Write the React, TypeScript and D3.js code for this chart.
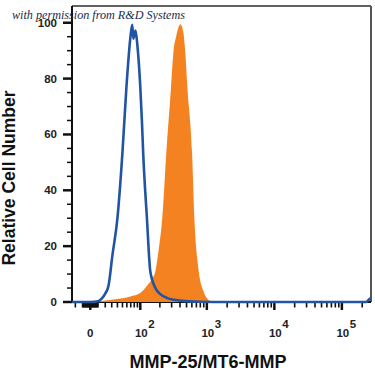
import React from "react";
import * as d3 from "d3";

// Fluorescence intensity (x) and relative cell number (y)
const isotypeIntensity = [-25, 0, 10, 15, 20, 25, 31, 40, 50, 59, 69, 74, 77.5, 84, 90, 100, 106, 111, 127, 143, 171, 203, 259, 405, 800, 2000, 10000, 100000, 230000, 250000, 270000];
const isotypeCount = [0, 0, 0.3, 1.2, 3, 6, 16.5, 30, 53.5, 77, 94.7, 99.3, 94.3, 97.2, 91.8, 77, 65, 53.5, 30, 11, 5, 2.8, 1.4, 0.5, 0.1, 0, 0, 0, 0, 0.8, 1.5];

const stainedIntensity = [-25, 0, 7, 13, 36, 69, 100, 129, 154, 171, 190, 217, 250, 294, 318, 353, 405, 448, 480, 514, 604, 653, 749, 888, 1000, 1127, 1350, 270000];
const stainedCount = [0, 0, 0.2, 0.4, 1, 2, 3.2, 6, 8.5, 11, 18, 30, 53.5, 77, 89, 95.4, 99.5, 96.5, 89, 77, 53.5, 30, 12, 3.9, 1.4, 0.3, 0, 0];

const yMajorTicks = [0, 20, 40, 60, 80, 100];
const yMinorTicks = [5, 10, 15, 25, 30, 35, 45, 50, 55, 65, 70, 75, 85, 90, 95];
const xMajorTicks = [0, 100, 1000, 10000, 100000];
const xTickExponents = ["", "2", "3", "4", "5"];
const xMinorTicks = [
  -20, -10, -9, -8, -7, -6, -5, -4, -3, -2, -1,
  1, 2, 3, 4, 5, 6, 7, 8, 9,
  10, 20, 30, 40, 50, 60, 70, 80, 90,
  200, 300, 400, 500, 600, 700, 800, 900,
  2000, 3000, 4000, 5000, 6000, 7000, 8000, 9000,
  20000, 30000, 40000, 50000, 60000, 70000, 80000, 90000,
  200000,
];

const W = 37.6;
const L = 72, R = 371, T = 6, B = 302;
const tr = (v: number) => Math.asinh(v / W);
const xLin = d3.scaleLinear().domain([tr(-25), tr(270000)]).range([L, R]);
const x = (v: number) => xLin(tr(v));
const y = d3.scaleLinear().domain([0, 106]).range([B, T]);

export default function App() {
  const stained = stainedIntensity.map((v, i) => [v, stainedCount[i]] as [number, number]);
  const isotype = isotypeIntensity.map((v, i) => [v, isotypeCount[i]] as [number, number]);
  const area = d3
    .area<[number, number]>()
    .x((d) => x(d[0]))
    .y0(y(0))
    .y1((d) => y(d[1]))
    .curve(d3.curveMonotoneX);
  const line = d3
    .line<[number, number]>()
    .x((d) => x(d[0]))
    .y((d) => y(d[1]))
    .curve(d3.curveMonotoneX);

  const bold = "'Liberation Sans', Arial, sans-serif";
  return (
    <svg
      width={375}
      height={375}
      style={{ position: "absolute", left: 0, top: 0, background: "#fff" }}
    >
      <defs>
        <clipPath id="plot">
          <rect x={L} y={T} width={R - L} height={B - T + 2} />
        </clipPath>
      </defs>
      <rect x={0} y={0} width={375} height={375} fill="#fff" />
      {/* frame */}
      <line x1={L} x2={R} y1={T} y2={T} stroke="#626262" strokeWidth={2} />
      <line x1={R} x2={R} y1={T} y2={B} stroke="#555" strokeWidth={2} />
      <line x1={L} x2={L} y1={T} y2={B + 1} stroke="#111" strokeWidth={2} />
      <line x1={L} x2={R} y1={B} y2={B} stroke="#111" strokeWidth={2} />

      {/* y ticks */}
      {yMajorTicks.map((t) => (
        <g key={"ym" + t}>
          <line x1={63} x2={L} y1={y(t)} y2={y(t)} stroke="#111" strokeWidth={2.5} />
          <text
            x={57}
            y={y(t)}
            dy="0.35em"
            textAnchor="end"
            fontFamily={bold}
            fontWeight="bold"
            fontSize={11.5}
            fill="#222"
          >
            {t}
          </text>
        </g>
      ))}
      {yMinorTicks.map((t) => (
        <line key={"yn" + t} x1={67} x2={L} y1={y(t)} y2={y(t)} stroke="#111" strokeWidth={1.5} />
      ))}

      {/* x ticks */}
      {xMinorTicks.map((t) => (
        <line key={"xn" + t} x1={x(t)} x2={x(t)} y1={B} y2={B + 5.5} stroke="#111" strokeWidth={1.6} />
      ))}
      {xMajorTicks.map((t, i) => (
        <g key={"xm" + t}>
          <line x1={x(t)} x2={x(t)} y1={B} y2={B + 8} stroke="#111" strokeWidth={2.5} />
          {xTickExponents[i] === "" ? (
            <text x={x(t)} y={337} textAnchor="middle" fontFamily={bold} fontWeight="bold" fontSize={11.5} fill="#222">
              0
            </text>
          ) : (
            <g>
              <text x={x(t) + 1} y={337} textAnchor="middle" fontFamily={bold} fontWeight="bold" fontSize={11.5} fill="#222">
                10
              </text>
              <text x={x(t) + 8} y={328} textAnchor="start" fontFamily={bold} fontWeight="bold" fontSize={11.5} fill="#222">
                {xTickExponents[i]}
              </text>
            </g>
          )}
        </g>
      ))}

      {/* histograms */}
      <g clipPath="url(#plot)">
        <path d={area(stained) || ""} fill="#f58220" />
        <path d={line(isotype) || ""} fill="none" stroke="#2154a2" strokeWidth={2.6} strokeLinejoin="round" />
      </g>

      {/* titles */}
      <text
        x={208}
        y={368}
        textAnchor="middle"
        fontFamily={bold}
        fontWeight="bold"
        fontSize={18}
        fill="#111"
      >
        MMP-25/MT6-MMP
      </text>
      <text
        transform="translate(15,178) rotate(-90)"
        textAnchor="middle"
        fontFamily={bold}
        fontWeight="bold"
        fontSize={17.5}
        fill="#111"
      >
        Relative Cell Number
      </text>

      {/* watermark */}
      <text
        x={12}
        y={19}
        fontFamily="'Liberation Serif', 'DejaVu Serif', serif"
        fontStyle="italic"
        fontSize={12.5}
        fill="#1b2a4a"
        textLength={173}
        lengthAdjust="spacingAndGlyphs"
      >
        with permission from R&amp;D Systems
      </text>
    </svg>
  );
}
